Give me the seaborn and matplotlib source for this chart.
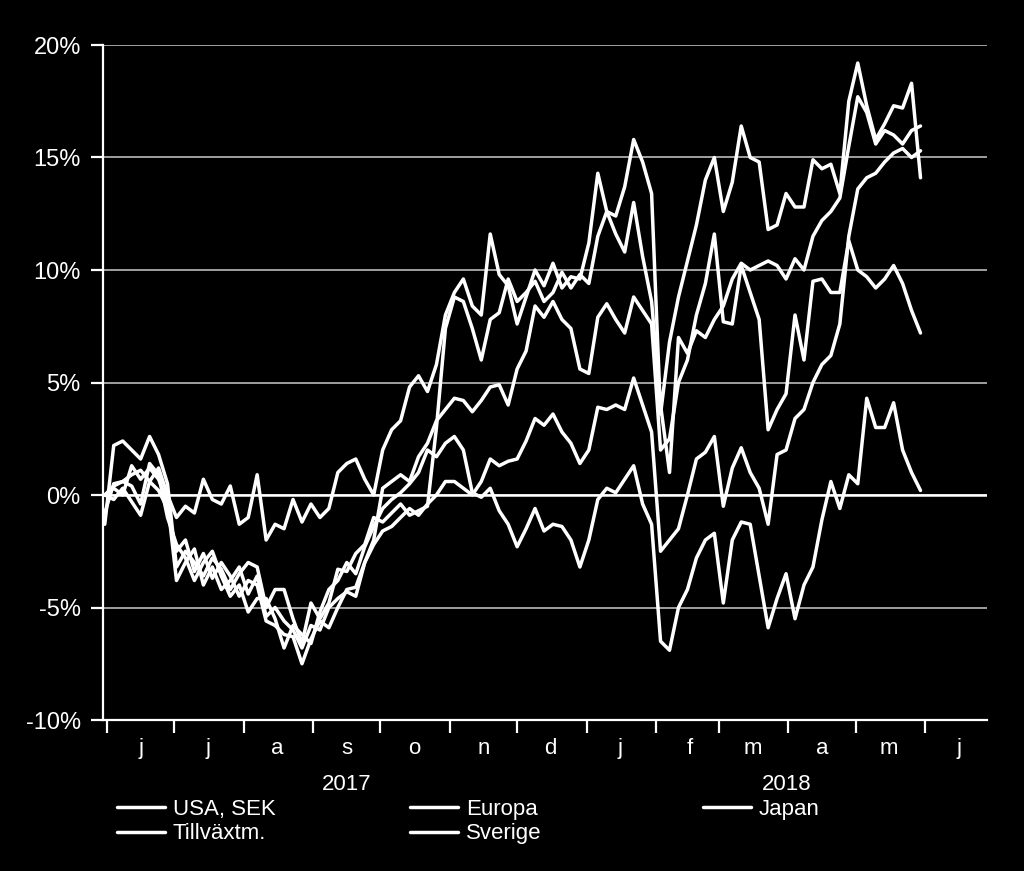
import numpy as np
import pandas as pd
import matplotlib
matplotlib.use("Agg")
import matplotlib.pyplot as plt
import matplotlib.dates as mdates
from matplotlib.ticker import FixedLocator, FixedFormatter, FuncFormatter
from matplotlib.transforms import blended_transform_factory
import seaborn as sns

# ---------------- data ----------------
dates = pd.date_range("2017-05-31", periods=92, freq="4D")

usa_sek = [-1.3, 2.2, 2.4, 2.0, 1.6, 2.6, 1.8, 0.5, -3.2,
           -2.5, -3.0, -3.6, -2.8, -3.3, -4.2, -3.5,
           -3.0, -3.2, -5.0, -4.2, -4.2, -5.5, -6.6, -4.8,
           -5.5, -4.8, -3.3, -3.4, -2.6, -2.2, -1.0,
           -1.2, -0.8, -0.4, -0.9, -0.7, -0.5, 3.0, 7.4,
           8.8, 8.6, 7.4, 6.0, 7.8, 8.1, 9.6, 8.6,
           9.0, 9.5, 8.6, 9.0, 9.9, 9.2, 9.8,
           9.4, 11.5, 12.6, 11.6, 10.8, 13.0, 10.6, 8.6,
           4.0, 1.0, 7.0, 6.3, 7.3, 7.0, 7.8,
           8.4, 9.6, 10.3, 10.0, 10.2, 10.4, 10.2,
           9.6, 10.5, 10.0, 11.5, 12.2, 12.6, 13.2, 15.5,
           17.7, 17.0, 15.6, 16.2, 16.0, 15.6, 16.2, 16.4]

tillvaxt = [0.0, 0.4, 0.6, 0.9, 1.1, 0.6, 1.2, 0.0, -1.0,
            -0.5, -0.8, 0.7, -0.2, -0.4, 0.4, -1.3,
            -1.0, 0.9, -2.0, -1.3, -1.5, -0.2, -1.2, -0.4,
            -1.0, -0.6, 1.0, 1.4, 1.6, 0.7, 0.0,
            2.0, 2.9, 3.3, 4.8, 5.3, 4.6, 5.8, 8.0,
            9.0, 9.6, 8.4, 8.0, 11.6, 9.8, 9.3, 7.6,
            8.8, 10.0, 9.3, 10.3, 9.2, 9.7, 9.6,
            11.2, 14.3, 12.6, 12.4, 13.7, 15.8, 14.8, 13.4,
            3.6, 6.8, 8.8, 10.4, 12.0, 14.0, 15.0,
            12.6, 13.9, 16.4, 15.0, 14.8, 11.8, 12.0,
            13.4, 12.8, 12.8, 14.9, 14.5, 14.7, 13.4, 17.5,
            19.2, 17.3, 15.8, 16.5, 17.3, 17.2, 18.3, 14.1]

europa = [0.0, -0.2, 0.3, -0.3, -0.9, 0.6, 0.2, -0.6, -2.5,
          -2.0, -3.4, -2.6, -3.7, -3.0, -3.6, -4.5,
          -3.8, -4.0, -5.6, -5.8, -6.2, -6.3, -7.5, -6.4,
          -5.6, -5.9, -5.0, -4.2, -4.1, -3.0, -2.0,
          0.3, 0.6, 0.9, 0.6, 1.7, 2.3, 3.3, 3.8,
          4.3, 4.2, 3.7, 4.2, 4.8, 4.9, 4.0, 5.6,
          6.4, 8.4, 7.9, 8.6, 7.8, 7.4, 5.6,
          5.4, 7.9, 8.5, 7.8, 7.2, 8.8, 8.2, 7.6,
          2.0, 2.5, 5.0, 6.0, 8.0, 9.4, 11.6,
          7.7, 7.6, 10.2, 9.0, 7.8, 2.9, 3.8,
          4.5, 8.0, 6.0, 9.5, 9.6, 9.0, 9.0, 11.3,
          10.0, 9.7, 9.2, 9.6, 10.2, 9.4, 8.2, 7.2]

sverige = [-0.8, 0.5, 0.6, 0.4, -0.4, 1.4, 0.9, -1.0, -2.2,
           -2.8, -3.8, -3.0, -2.5, -3.6, -4.5, -4.0,
           -5.2, -4.6, -4.6, -5.5, -6.8, -5.8, -6.2, -6.6,
           -5.2, -4.2, -3.8, -3.0, -3.5, -2.3, -1.4,
           -0.6, -0.2, 0.1, 0.5, 1.0, 2.0, 1.7, 2.3,
           2.6, 2.0, 0.1, -0.1, 0.3, -0.7, -1.3, -2.3,
           -1.5, -0.6, -1.6, -1.3, -1.4, -2.0, -3.2,
           -2.0, -0.2, 0.3, 0.1, 0.7, 1.3, -0.4, -1.3,
           -6.5, -6.9, -5.0, -4.2, -2.8, -2.0, -1.7,
           -4.8, -2.0, -1.2, -1.3, -3.6, -5.9, -4.6,
           -3.5, -5.5, -4.0, -3.2, -1.1, 0.6, -0.6, 0.9,
           0.5, 4.3, 3.0, 3.0, 4.1, 2.0, 1.0, 0.2]

japan = [0.0, 0.3, 0.0, 1.3, 0.7, 1.2, 0.7, -0.3, -3.8,
         -3.0, -2.4, -4.0, -3.2, -4.2, -3.8, -3.2,
         -4.4, -3.6, -5.4, -5.0, -5.6, -6.0, -6.8, -5.8,
         -6.0, -5.0, -4.6, -4.3, -4.5, -3.0, -2.2,
         -1.6, -1.4, -1.0, -0.6, -0.9, -0.4, 0.0, 0.6,
         0.6, 0.3, 0.0, 0.6, 1.6, 1.3, 1.5, 1.6,
         2.4, 3.4, 3.1, 3.6, 2.8, 2.3, 1.4,
         2.0, 3.9, 3.8, 4.0, 3.8, 5.2, 4.0, 2.8,
         -2.5, -2.0, -1.5, 0.0, 1.6, 1.9, 2.6,
         -0.5, 1.2, 2.1, 1.0, 0.3, -1.3, 1.8,
         2.0, 3.4, 3.8, 5.0, 5.8, 6.2, 7.6, 11.5,
         13.6, 14.1, 14.3, 14.8, 15.2, 15.4, 15.0, 15.3]

series_names = ["USA, SEK", "Europa", "Japan", "Tillväxtm.", "Sverige"]
series_vals = [usa_sek, europa, japan, tillvaxt, sverige]

y_ticks = [-10, -5, 0, 5, 10, 15, 20]
month_starts = pd.date_range("2017-06-01", "2018-06-01", freq="MS")
month_mids = month_starts + pd.Timedelta(days=15)
month_labels = ["j", "j", "a", "s", "o", "n", "d", "j", "f", "m", "a", "m", "j"]
years = ["2017", "2018"]

# ---------------- style ----------------
sns.set_theme(style="dark")
plt.rcParams["font.family"] = ["Liberation Sans", "DejaVu Sans"]
FS = 16

fig = plt.figure(figsize=(10.24, 8.71), dpi=100, facecolor="black")
ax = fig.add_axes([103 / 1024, 1 - 720 / 871, (987 - 103) / 1024, (720 - 45) / 871])
ax.set_facecolor("black")

handles = {}
for name, vals in zip(series_names, series_vals):
    sns.lineplot(x=dates, y=vals, ax=ax, color="white", linewidth=2.5,
                 legend=False, zorder=3)
    handles[name] = ax.lines[-1]

x_left = pd.Timestamp("2017-05-30 05:00")
x_right = pd.Timestamp("2018-06-28 16:00")
ax.set_xlim(x_left, x_right)
ax.set_ylim(-10, 20)

# y axis
ax.set_yticks(y_ticks)
ax.yaxis.set_major_formatter(FuncFormatter(lambda v, p: f"{v:.0f}%"))
ax.tick_params(axis="y", colors="white", labelcolor="white", length=9, width=1.6,
               direction="out", labelsize=FS + 1, pad=7, left=True)
ax.yaxis.grid(True, color="#a0a0a0", linewidth=1.4, zorder=0)
ax.xaxis.grid(False)
ax.axhline(0, color="white", linewidth=1.8, zorder=1)

# x axis
ax.xaxis.set_major_locator(FixedLocator(mdates.date2num(month_starts)))
ax.xaxis.set_major_formatter(FixedFormatter([""] * len(month_starts)))
ax.xaxis.set_minor_locator(FixedLocator(mdates.date2num(month_mids)))
ax.xaxis.set_minor_formatter(FixedFormatter(month_labels))
ax.tick_params(axis="x", which="major", colors="white", length=9, width=1.6,
               direction="out", bottom=True)
ax.tick_params(axis="x", which="minor", length=0, labelcolor="white",
               labelsize=FS, pad=13, bottom=True)
ax.set_xlabel("")
ax.set_ylabel("")

for s in ["top", "right"]:
    ax.spines[s].set_visible(False)
for s in ["left", "bottom"]:
    ax.spines[s].set_color("white")
    ax.spines[s].set_linewidth(1.6)

# year labels
trans = blended_transform_factory(ax.transData, ax.transAxes)
y2017_c = mdates.date2num(pd.Timestamp("2017-06-01")) + (
    mdates.date2num(pd.Timestamp("2018-01-01")) - mdates.date2num(pd.Timestamp("2017-06-01"))) / 2
y2018_c = mdates.date2num(pd.Timestamp("2018-01-01")) + (
    mdates.date2num(x_right) - mdates.date2num(pd.Timestamp("2018-01-01"))) / 2
for yc, lab in zip([y2017_c, y2018_c], years):
    ax.text(yc, -64 / 675, lab, transform=trans, ha="center", va="center",
            color="white", fontsize=FS)

# legends (three columns)
cols = [(117, ["USA, SEK", "Tillväxtm."]),
        (410, ["Europa", "Sverige"]),
        (703, ["Japan"])]
for xpix, names in cols:
    fig.legend([handles[n] for n in names], names, loc="upper left",
               bbox_to_anchor=(xpix / 1024, 1 - 799 / 871), frameon=False,
               fontsize=FS, labelcolor="white", handlelength=2.15,
               handletextpad=0.36, borderpad=0, borderaxespad=0,
               labelspacing=0.15)

fig.savefig("out.png", dpi=100, facecolor="black")
